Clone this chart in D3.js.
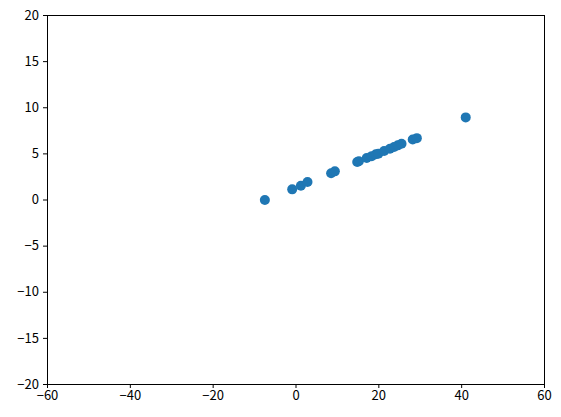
<!DOCTYPE html>
<html>
<head>
<meta charset="utf-8">
<script src="https://cdn.jsdelivr.net/npm/d3@7"></script>
<style>
  body { margin: 0; background: #fff; }
  .axis text { font-family: "Noto Sans CJK JP", "DejaVu Sans", sans-serif; font-size: 13px; fill: #000; }
  .axis path, .axis line { stroke: #000; stroke-width: 1; }
</style>
</head>
<body>
<div id="chart"></div>
<script>
/* Scatter values */
var xValues = [-7.4, -0.8, 1.3, 2.9, 8.6, 9.5, 14.9, 15.3, 17.2, 18.4, 19.4, 20.0,
               21.4, 22.8, 23.8, 24.7, 25.6, 28.3, 29.3, 41.1];
var yValues = [-0.05, 1.1, 1.5, 1.9, 2.85, 3.05, 4.07, 4.15, 4.5, 4.7, 4.9, 4.95,
               5.25, 5.5, 5.7, 5.87, 6.05, 6.5, 6.65, 8.9];
var xTicks = [-60, -40, -20, 0, 20, 40, 60];
var yTicks = [-20, -15, -10, -5, 0, 5, 10, 15, 20];

var width = 561,
    height = 417;
var margin = { top: 15, right: 17, bottom: 33, left: 47 };

var svg = d3.select("#chart")
    .append("svg")
    .attr("width", width)
    .attr("height", height);

var x = d3.scaleLinear().domain([-60, 60]).range([margin.left, width - margin.right]);
var y = d3.scaleLinear().domain([-20, 20]).range([height - margin.bottom, margin.top]);

var points = xValues.map(function (d, i) { return { x: d, y: yValues[i] }; });

/* points */
svg.selectAll("circle")
    .data(points)
    .enter().append("circle")
    .attr("cx", function (d) { return x(d.x); })
    .attr("cy", function (d) { return y(d.y); })
    .attr("r", 5)
    .attr("fill", "#1f77b4");

/* axes */
var fmt = function (d) { return d < 0 ? "\u2212" + Math.abs(d) : "" + d; };

svg.append("g")
    .attr("class", "axis")
    .attr("transform", "translate(0," + (height - margin.bottom) + ")")
    .call(d3.axisBottom(x).tickValues(xTicks).tickFormat(fmt).tickSize(4).tickPadding(3));

svg.append("g")
    .attr("class", "axis")
    .attr("transform", "translate(" + margin.left + ",0)")
    .call(d3.axisLeft(y).tickValues(yTicks).tickFormat(fmt).tickSize(4).tickPadding(4));

/* top and right spines */
svg.append("rect")
    .attr("x", margin.left + 0.5)
    .attr("y", margin.top + 0.5)
    .attr("width", width - margin.left - margin.right)
    .attr("height", height - margin.top - margin.bottom)
    .attr("fill", "none")
    .attr("stroke", "#000")
    .attr("stroke-width", 1);
</script>
</body>
</html>
